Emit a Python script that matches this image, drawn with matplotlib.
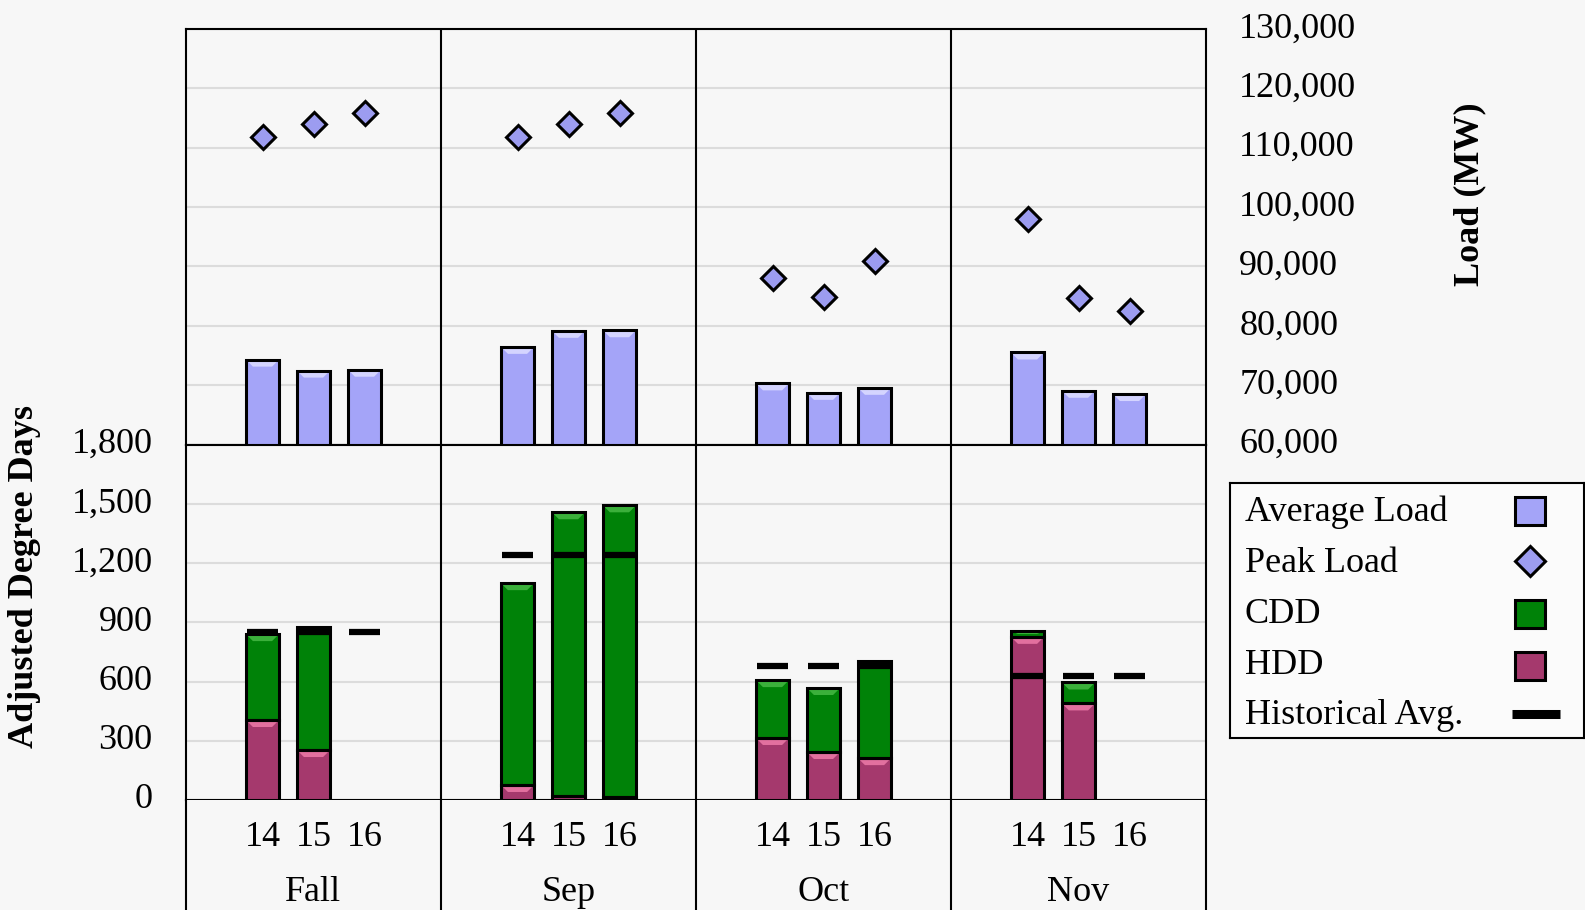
import matplotlib
matplotlib.use("Agg")
import matplotlib.pyplot as plt
import matplotlib.patches as mpatches
import numpy as np

plt.rcParams['font.family'] = ['Liberation Serif', 'DejaVu Serif']

months = ["Fall", "Sep", "Oct", "Nov"]
years = ["14", "15", "16"]

# load in MW, one row per month, one column per year
avg_load = [[74300, 72450, 72600],
            [76450, 79150, 79250],
            [70300, 68700, 69550],
            [75500, 69050, 68500]]
peak_load = [[111850, 114000, 115850],
             [111850, 114000, 115800],
             [88100, 84850, 90900],
             [98000, 84750, 82550]]

# degree days (16 has no data yet for Fall / Nov)
hdd = [[405, 253, np.nan],
       [76, 22, 17],
       [314, 243, 212],
       [826, 489, np.nan]]
cdd = [[435, 622, np.nan],
       [1022, 1435, 1475],
       [293, 324, 491],
       [29, 106, np.nan]]
hist_avg = [850, 1240, 678, 627]

load_ticks = list(range(60000, 130001, 10000))
dd_ticks = list(range(0, 1801, 300))

BG = "#f7f7f7"
C_AVG = "#a4a4f8"
C_AVG_HI = "#d4d4ff"
C_PEAK = "#9c9cf0"
C_CDD = "#008208"
C_CDD_HI = "#3bb03b"
C_HDD = "#a5396d"
C_HDD_HI = "#e2709f"
GRID = "#dcdcdc"
FS = 26

W, H = 1585, 910
fig = plt.figure(figsize=(W / 100, H / 100), dpi=100, facecolor=BG)
L, R = 186 / W, 1206 / W
ax_top = fig.add_axes([L, 1 - 444.5 / H, R - L, (444.5 - 29) / H])
ax_bot = fig.add_axes([L, 1 - 800 / H, R - L, (800 - 444.5) / H])
ax_lab = fig.add_axes([L, 0, R - L, 1 - 800 / H])

slot = np.array([1.5, 2.5, 3.5])
bw = 0.65


def bevel(ax, bars, light, px=7):
    """lighter trapezoid along the top of each bar"""
    y0, y1 = ax.get_ylim()
    pos = ax.get_position()
    dy = px * (y1 - y0) / (pos.height * H)
    x0, x1 = ax.get_xlim()
    dx = px * (x1 - x0) / (pos.width * W)
    for b in bars:
        h = b.get_height()
        if not np.isfinite(h) or h <= 0:
            continue
        x, w, top = b.get_x(), b.get_width(), b.get_y() + h
        d = min(dy, h * 0.5)
        ax.add_patch(mpatches.Polygon([[x, top], [x + w, top], [x + w - dx, top - d], [x + dx, top - d]],
                                      closed=True, facecolor=light, edgecolor='none', zorder=3.1))


for ax in (ax_top, ax_bot, ax_lab):
    ax.set_facecolor(BG)
    ax.set_xlim(0, 20)
    ax.set_xticks([])
    for s in ax.spines.values():
        s.set_linewidth(1.5)
        s.set_color('k')
    for xv in (5, 10, 15):
        ax.axvline(xv, color='k', lw=1.5, zorder=6)

ax_top.set_ylim(60000, 130000)
ax_bot.set_ylim(0, 1800)
ax_lab.set_ylim(0, 1)
ax_lab.set_yticks([])
ax_lab.spines['top'].set_visible(False)
ax_lab.spines['bottom'].set_visible(False)

# ---- load panel ----
ax_top.set_yticks(load_ticks)
ax_top.set_yticklabels([f"{v:,}" for v in load_ticks])
ax_top.yaxis.tick_right()
ax_top.tick_params(axis='y', length=0, pad=24, labelsize=FS)
ax_top.grid(axis='y', color=GRID, lw=1.5, zorder=0)
ax_top.set_axisbelow(True)

# ---- degree day panel ----
ax_bot.set_yticks(dd_ticks)
ax_bot.set_yticklabels([f"{v:,}" for v in dd_ticks])
ax_bot.tick_params(axis='y', length=0, pad=24, labelsize=FS)
ax_bot.grid(axis='y', color=GRID, lw=1.5, zorder=0)
ax_bot.set_axisbelow(True)

for lab in ax_top.get_yticklabels() + ax_bot.get_yticklabels():
    lab.set_verticalalignment('center')

for i, m in enumerate(months):
    x = i * 5 + slot
    b = ax_top.bar(x, avg_load[i], bw, color=C_AVG, edgecolor='none', zorder=3)
    bevel(ax_top, b, C_AVG_HI)
    ax_top.bar(x, avg_load[i], bw, fill=False, edgecolor='k', lw=2.2, zorder=4)
    ax_top.plot(x, peak_load[i], 'D', ms=12, mfc=C_PEAK, mec='k', mew=2.2, ls='none', zorder=5)

    h = np.array(hdd[i], dtype=float)
    c = np.array(cdd[i], dtype=float)
    bh = ax_bot.bar(x, h, bw, color=C_HDD, edgecolor='none', zorder=3)
    bevel(ax_bot, bh, C_HDD_HI)
    ax_bot.bar(x, h, bw, fill=False, edgecolor='k', lw=2.2, zorder=4)
    bc = ax_bot.bar(x, c, bw, bottom=h, color=C_CDD, edgecolor='none', zorder=3)
    bevel(ax_bot, bc, C_CDD_HI)
    ax_bot.bar(x, c, bw, bottom=h, fill=False, edgecolor='k', lw=2.2, zorder=4)
    ax_bot.hlines([hist_avg[i]] * 3, x - 0.3, x + 0.3, color='k', lw=4.5, zorder=5)

    for xv, yr in zip(x, years):
        ax_lab.text(xv, 0.58, yr, ha='center', va='baseline', fontsize=FS)
    ax_lab.text(i * 5 + 2.5, 0.085, m, ha='center', va='baseline', fontsize=FS)

fig.text(25 / W, 1 - 576 / H, "Adjusted Degree Days", rotation=90, ha='center', va='center',
         fontsize=FS, fontweight='bold')
fig.text(1470 / W, 1 - 194 / H, "Load (MW)", rotation=90, ha='center', va='center',
         fontsize=FS, fontweight='bold')

# ---- legend box ----
lx0, ly0, lx1, ly1 = 1230, 483, 1584, 738
ax_leg = fig.add_axes([lx0 / W, 1 - ly1 / H, (lx1 - lx0) / W, (ly1 - ly0) / H])
ax_leg.set_xlim(lx0, lx1)
ax_leg.set_ylim(ly1, ly0)
ax_leg.set_xticks([])
ax_leg.set_yticks([])
ax_leg.set_facecolor("#fbfbfb")
for s in ax_leg.spines.values():
    s.set_linewidth(1.5)

names = ["Average Load", "Peak Load", "CDD", "HDD", "Historical Avg."]
baselines = [521, 572, 623, 674, 724]
for n, yb in zip(names, baselines):
    ax_leg.text(1245, yb, n, ha='left', va='baseline', fontsize=FS)

kx = 1530
for yc, col in ((511, C_AVG), (614, C_CDD), (666, C_HDD)):
    ax_leg.add_patch(mpatches.Rectangle((kx - 15, yc - 14), 30, 28, facecolor=col,
                                        edgecolor='k', lw=2.2))
ax_leg.plot([kx], [561], 'D', ms=15, mfc=C_PEAK, mec='k', mew=2.2)
ax_leg.plot([1512, 1560], [714, 714], color='k', lw=6.5, solid_capstyle='butt')

fig.savefig("out.png", dpi=100, facecolor=BG)
